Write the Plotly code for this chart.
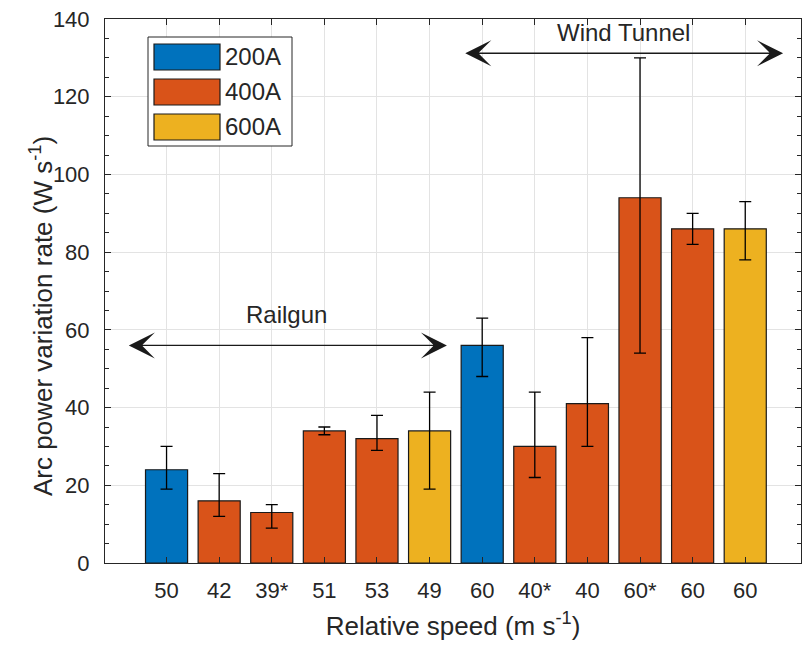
import plotly.graph_objects as go

# ---------------- data ----------------
categories = ["50", "42", "39*", "51", "53", "49", "60", "40*", "40", "60*", "60", "60"]
currents = ["200A", "400A", "400A", "400A", "400A", "600A",
            "200A", "400A", "400A", "400A", "400A", "600A"]
values = [24, 16, 13, 34, 32, 34, 56, 30, 41, 94, 86, 86]
err_upper = [30, 23, 15, 35, 38, 44, 63, 44, 58, 130, 90, 93]
err_lower = [19, 12, 9, 33, 29, 19, 48, 22, 30, 54, 82, 78]
groups = ["200A", "400A", "600A"]
y_ticks = [0, 20, 40, 60, 80, 100, 120, 140]

colors = {"200A": "#0072BD", "400A": "#D95319", "600A": "#EDB120"}
TXT = "#262626"
FONT = "Liberation Sans, Arial, sans-serif"

W, H = 802, 651
L, R, T, B = 105, 1, 19, 88
PW, PH = W - L - R, H - T - B

positions = list(range(1, len(categories) + 1))

fig = go.Figure()
for g in groups:
    idx = [i for i, c in enumerate(currents) if c == g]
    fig.add_trace(go.Bar(
        x=[positions[i] for i in idx],
        y=[values[i] for i in idx],
        name=g,
        width=0.8,
        marker=dict(color=colors[g], line=dict(color="#1a1a1a", width=1.2)),
        error_y=dict(
            type="data", symmetric=False,
            array=[err_upper[i] - values[i] for i in idx],
            arrayminus=[values[i] - err_lower[i] for i in idx],
            color="#000000", thickness=1.3, width=6,
        ),
        showlegend=False,
    ))

# region arrows
def region_arrow(x0, x1, yv, label, ylab):
    fig.add_annotation(x=x1, y=yv, ax=x0, ay=yv, xref="x", yref="y",
                       axref="x", ayref="y", showarrow=True, arrowhead=3,
                       arrowside="end+start", arrowsize=3.1, arrowwidth=1.4,
                       arrowcolor="#1a1a1a", text="&nbsp;", font=dict(size=2),
                       standoff=0, startstandoff=0)
    fig.add_annotation(x=(x0 + x1) / 2, y=ylab, xref="x", yref="y", text=label,
                       showarrow=False, font=dict(size=24, color=TXT, family=FONT))

region_arrow(0.245, 6.33, 56, "Railgun", 64)
region_arrow(6.64, 12.72, 131.2, "Wind Tunnel", 136.4)

# manual legend (large swatches like the original)
def px_x(p):
    return (p - L) / PW

def px_y(p):
    return (H - B - p) / PH

fig.add_shape(type="rect", xref="paper", yref="paper",
              x0=px_x(148), x1=px_x(292), y0=px_y(146), y1=px_y(37),
              line=dict(color="#262626", width=1), fillcolor="white", layer="above")
for k, g in enumerate(groups):
    top = 44 + 35 * k
    fig.add_shape(type="rect", xref="paper", yref="paper",
                  x0=px_x(154), x1=px_x(220), y0=px_y(top + 26), y1=px_y(top),
                  line=dict(color="#1a1a1a", width=1.2), fillcolor=colors[g], layer="above")
    fig.add_annotation(xref="paper", yref="paper", x=px_x(223), y=px_y(top + 13),
                       xanchor="left", yanchor="middle", text=g, showarrow=False,
                       font=dict(size=24, color=TXT, family=FONT))

# y-axis title placed like the original
fig.add_annotation(xref="paper", yref="paper", x=px_x(41), y=px_y(316),
                   xanchor="center", yanchor="middle", textangle=-90,
                   text="Arc power variation rate (W s<sup>-1</sup>)", showarrow=False,
                   font=dict(size=26, color=TXT, family=FONT))

axis_common = dict(
    showline=True, linecolor=TXT, linewidth=1, mirror="ticks",
    ticks="inside", tickcolor=TXT, ticklen=6,
    showgrid=True, gridcolor="#e3e3e3", gridwidth=1, zeroline=False,
)

fig.update_layout(
    width=W, height=H,
    margin=dict(l=L, r=R, t=T, b=B),
    paper_bgcolor="white", plot_bgcolor="white",
    barmode="overlay",
    font=dict(family=FONT, color=TXT),
    xaxis=dict(
        range=[-0.17, 13.06], tickmode="array", tickvals=positions, ticktext=categories,
        tickfont=dict(size=22, color=TXT), ticklabelstandoff=8,
        title=dict(text="Relative speed (m s<sup>-1</sup>)", font=dict(size=26, color=TXT), standoff=14),
        **axis_common,
    ),
    yaxis=dict(
        range=[0, 140], tickmode="array", tickvals=y_ticks,
        tickfont=dict(size=22, color=TXT), ticklabelstandoff=10,
        minor=dict(dtick=5, ticks="inside", ticklen=4, tickcolor=TXT, showgrid=False),
        **axis_common,
    ),
)

fig.write_html("out.html")
